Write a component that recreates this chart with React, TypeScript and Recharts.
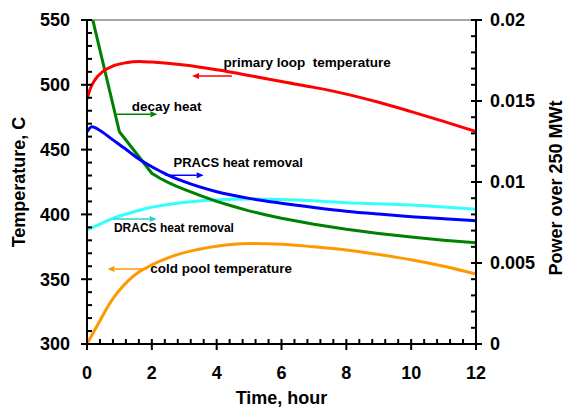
import { LineChart, Line, XAxis, YAxis, ReferenceLine, ReferenceDot, Label } from "recharts";

// time axis, hours
const hourMajor = [0, 2, 4, 6, 8, 10, 12];
// temperature axis (left), C
const tempMajor = [300, 350, 400, 450, 500, 550];
// power axis (right), fraction of 250 MWt
const powerMajor = [0, 0.005, 0.01, 0.015, 0.02];

// primary loop temperature, C
const primaryTime = [0, 0.1, 0.25, 0.5, 0.8, 1.2, 1.6, 2, 3, 4, 5, 6, 7, 8, 9, 10, 11, 12];
const primaryTemp = [489, 497, 504, 510.5, 514.5, 517, 518, 517.5, 515.2, 511.6, 507.2, 502.5, 498, 492.8, 486.5, 479.3, 471.8, 464];

// cold pool temperature, C
const coldTime = [0, 0.1, 0.2, 0.4, 0.6, 0.8, 1, 1.3, 1.6, 2, 2.5, 3, 4, 5, 6, 7, 8, 9, 10, 11, 12];
const coldTemp = [300, 304.5, 309, 318, 327, 335, 341.5, 349.5, 355.5, 361, 366.5, 370.5, 375.5, 377.5, 377, 375, 372.5, 369, 365, 360, 354];

// decay heat, power / 250 MWt
const decayTime = [0, 1, 2, 2.25, 2.5, 2.75, 3, 3.5, 4, 4.5, 5, 5.5, 6, 7, 8, 9, 10, 11, 12];
const decayPower = [0.0215, 0.0131, 0.01054, 0.01023, 0.00998, 0.00975, 0.00955, 0.00916, 0.0088, 0.0085, 0.00822, 0.00798, 0.00776, 0.00739, 0.00708, 0.00682, 0.0066, 0.00641, 0.00625];

// PRACS heat removal
const pracsTime = [0, 0.15, 0.4, 0.8, 1.2, 1.5, 2, 2.5, 3, 4, 5, 6, 7, 8, 9, 10, 11, 12];
const pracsPower = [0.0131, 0.01341, 0.01318, 0.0126, 0.01202, 0.01156, 0.01094, 0.01043, 0.01002, 0.0094, 0.00899, 0.00869, 0.00843, 0.0082, 0.00802, 0.00786, 0.00773, 0.00761];

// DRACS heat removal
const dracsTime = [0, 0.4, 0.8, 1.3, 1.85, 2.9, 3.9, 5, 6, 7, 8, 9, 10, 11, 12];
const dracsPower = [0.00704, 0.0074, 0.00776, 0.00807, 0.00838, 0.00872, 0.00889, 0.00895, 0.00892, 0.00884, 0.00872, 0.00865, 0.00858, 0.00845, 0.00831];

// annotations, placed in (hour, C)
const notes = [
    { text: "primary loop  temperature", color: "#ff0000", size: 13.5, at: [4.21, 513.7], from: [4.47, 506.8], to: [3.24, 506.8] },
    { text: "decay heat", color: "#008000", size: 13.5, at: [1.38, 479.8], from: [0.92, 477.2], to: [2.17, 477.2] },
    { text: "PRACS heat removal", color: "#0000ff", size: 13, at: [2.67, 436.3], from: [2.41, 430.2], to: [3.6, 430.2] },
    { text: "DRACS heat removal", color: "#33cccc", size: 12, at: [0.83, 386.7], from: [0.81, 396.5], to: [2.15, 396.5] },
    { text: "cold pool temperature", color: "#ff9900", size: 13.5, at: [1.95, 354.5], from: [1.84, 357.9], to: [0.63, 357.9] },
];

const FONT = '"Liberation Sans", Arial, sans-serif';

const zip = (ts: number[], vs: number[]) => ts.map((t, i) => ({ t, v: vs[i] }));
const steps = (from: number, to: number, step: number) => {
    const out: number[] = [];
    for (let i = 0; from + i * step <= to + 1e-9; i++) out.push(Number((from + i * step).toFixed(4)));
    return out;
};
const isMajor = (v: number, majors: number[]) => majors.some((m) => Math.abs(m - v) < 1e-9);

function LeftTick({ x, y, payload }: any) {
    const major = isMajor(payload.value, tempMajor);
    return (
        <g>
            <line x1={major ? x - 6 : x} x2={x + 5} y1={y} y2={y} stroke="#000" strokeWidth={2} />
            {major && (
                <text x={x - 17} y={y} dy="0.35em" textAnchor="end" fontFamily={FONT} fontWeight="bold" fontSize={18} fill="#000">
                    {payload.value}
                </text>
            )}
        </g>
    );
}

function RightTick({ x, y, payload }: any) {
    const major = isMajor(payload.value, powerMajor);
    return (
        <g>
            <line x1={x - 5} x2={major ? x + 6 : x} y1={y} y2={y} stroke="#000" strokeWidth={2} />
            {major && (
                <text x={x + 14} y={y} dy="0.35em" textAnchor="start" fontFamily={FONT} fontWeight="bold" fontSize={18} fill="#000">
                    {String(Number(payload.value.toFixed(3)))}
                </text>
            )}
        </g>
    );
}

function BottomTick({ x, y, payload }: any) {
    const major = isMajor(payload.value, hourMajor);
    return (
        <g>
            <line x1={x} x2={x} y1={y - 5} y2={major ? y + 6 : y} stroke="#000" strokeWidth={2} />
            {major && (
                <text x={x} y={y + 35} textAnchor="middle" fontFamily={FONT} fontWeight="bold" fontSize={18} fill="#000">
                    {payload.value}
                </text>
            )}
        </g>
    );
}

function Arrow({ x1, y1, x2, y2, color }: any) {
    const a = Math.atan2(y2 - y1, x2 - x1);
    const len = 7;
    const half = 3;
    const bx = x2 - len * Math.cos(a);
    const by = y2 - len * Math.sin(a);
    const px = -Math.sin(a) * half;
    const py = Math.cos(a) * half;
    return (
        <g>
            <line x1={x1} y1={y1} x2={bx} y2={by} stroke={color} strokeWidth={1.5} />
            <polygon points={`${x2},${y2} ${bx + px},${by + py} ${bx - px},${by - py}`} fill={color} />
        </g>
    );
}

export default function App() {
    return (
        <div style={{ position: "absolute", left: 0, top: 0, width: 564, height: 407, background: "#fff" }}>
            <LineChart width={564} height={407} margin={{ top: 20, right: 0, bottom: 0, left: 0 }}>
                <XAxis
                    type="number"
                    dataKey="t"
                    domain={[0, 12]}
                    ticks={steps(0, 12, 0.4)}
                    interval={0}
                    tickSize={0}
                    tickMargin={0}
                    tickLine={false}
                    tick={(p: any) => <BottomTick {...p} />}
                    axisLine={{ stroke: "#000", strokeWidth: 2 }}
                    height={63}
                    allowDataOverflow
                >
                    <Label
                        content={({ viewBox }: any) => (
                            <text x={viewBox.x + viewBox.width / 2} y={404} textAnchor="middle" fontFamily={FONT} fontWeight="bold" fontSize={18} fill="#000">
                                Time, hour
                            </text>
                        )}
                    />
                </XAxis>
                <YAxis
                    yAxisId="left"
                    type="number"
                    domain={[300, 550]}
                    ticks={steps(300, 550, 10)}
                    interval={0}
                    tickSize={0}
                    tickMargin={0}
                    tickLine={false}
                    tick={(p: any) => <LeftTick {...p} />}
                    axisLine={{ stroke: "#000", strokeWidth: 2 }}
                    width={87}
                    allowDataOverflow
                >
                    <Label
                        content={({ viewBox }: any) => {
                            const cx = viewBox.x + 25;
                            const cy = viewBox.y + viewBox.height / 2;
                            return (
                                <text x={cx} y={cy} transform={`rotate(-90 ${cx} ${cy})`} textAnchor="middle" fontFamily={FONT} fontWeight="bold" fontSize={18} fill="#000">
                                    Temperature, C
                                </text>
                            );
                        }}
                    />
                </YAxis>
                <YAxis
                    yAxisId="right"
                    orientation="right"
                    type="number"
                    domain={[0, 0.02]}
                    ticks={steps(0, 0.02, 0.001)}
                    interval={0}
                    tickSize={0}
                    tickMargin={0}
                    tickLine={false}
                    tick={(p: any) => <RightTick {...p} />}
                    axisLine={{ stroke: "#000", strokeWidth: 2 }}
                    width={88}
                    allowDataOverflow
                >
                    <Label
                        content={({ viewBox }: any) => {
                            const cx = viewBox.x + 85.5;
                            const cy = viewBox.y + viewBox.height / 2 + 6;
                            return (
                                <text x={cx} y={cy} transform={`rotate(-90 ${cx} ${cy})`} textAnchor="middle" fontFamily={FONT} fontWeight="bold" fontSize={18} fill="#000">
                                    Power over 250 MWt
                                </text>
                            );
                        }}
                    />
                </YAxis>

                <ReferenceLine yAxisId="left" y={550} stroke="#a6a6a6" strokeWidth={2} />

                <Line data={zip(dracsTime, dracsPower)} yAxisId="right" dataKey="v" type="monotone" stroke="#33ffff" strokeWidth={3} dot={false} isAnimationActive={false} />
                <Line data={zip(decayTime, decayPower)} yAxisId="right" dataKey="v" type="linear" stroke="#008000" strokeWidth={3} dot={false} isAnimationActive={false} />
                <Line data={zip(pracsTime, pracsPower)} yAxisId="right" dataKey="v" type="monotone" stroke="#0000ff" strokeWidth={3} dot={false} isAnimationActive={false} />
                <Line data={zip(coldTime, coldTemp)} yAxisId="left" dataKey="v" type="monotone" stroke="#ff9900" strokeWidth={3} dot={false} isAnimationActive={false} />
                <Line data={zip(primaryTime, primaryTemp)} yAxisId="left" dataKey="v" type="monotone" stroke="#ff0000" strokeWidth={3} dot={false} isAnimationActive={false} />

                {notes.map((n) => (
                    <ReferenceLine
                        key={`arrow-${n.text}`}
                        yAxisId="left"
                        segment={[{ x: n.from[0], y: n.from[1] }, { x: n.to[0], y: n.to[1] }]}
                        shape={(p: any) => <Arrow {...p} color={n.color} />}
                    />
                ))}
                {notes.map((n) => (
                    <ReferenceDot
                        key={`note-${n.text}`}
                        yAxisId="left"
                        x={n.at[0]}
                        y={n.at[1]}
                        r={0}
                        shape={(p: any) => (
                            <text x={p.cx} y={p.cy} fontFamily={FONT} fontWeight="bold" fontSize={n.size} fill="#000" style={{ whiteSpace: "pre" }}>
                                {n.text}
                            </text>
                        )}
                    />
                ))}
            </LineChart>
        </div>
    );
}
